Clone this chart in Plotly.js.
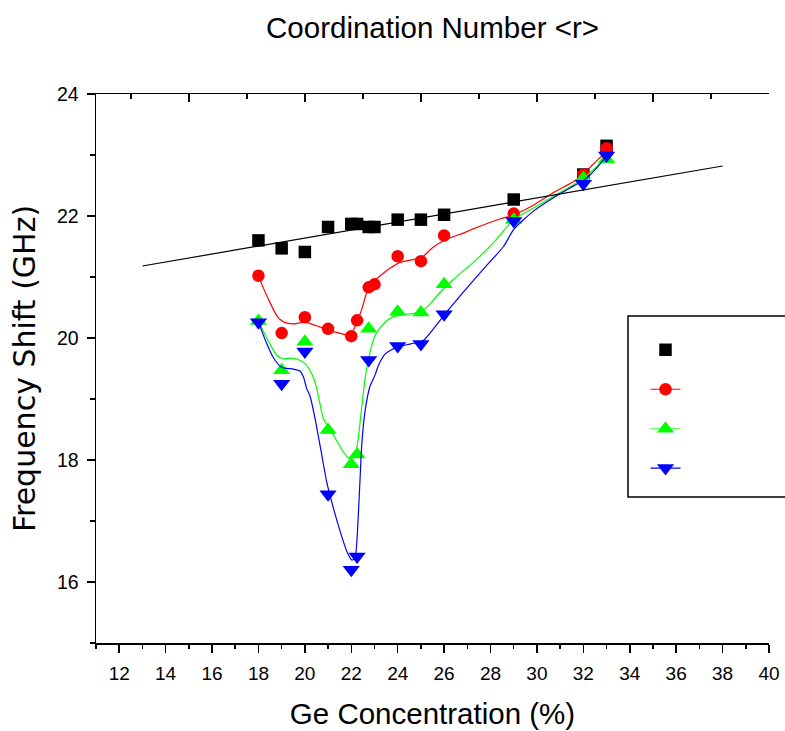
<!DOCTYPE html>
<html>
<head>
<meta charset="utf-8">
<script src="https://cdn.plot.ly/plotly-3.0.1.min.js"></script>
<style>html,body{margin:0;padding:0;background:#fff;}#chart{width:785px;height:731px;}</style>
</head>
<body>
<div id="chart"></div>
<script>
// Measured points (Ge concentration %, frequency shift GHz)
const geAll = [18, 19, 20, 21, 22, 22.25, 22.75, 23, 24, 25, 26, 29, 32, 33];
const blackShift = [21.60, 21.47, 21.41, 21.82, 21.87, 21.87, 21.82, 21.82, 21.94, 21.94, 22.02, 22.27, 22.68, 23.15];
const redShift = [21.02, 20.08, 20.34, 20.15, 20.03, 20.29, 20.83, 20.88, 21.34, 21.26, 21.68, 22.04, 22.68, 23.11];
const geGB = [18, 19, 20, 21, 22, 22.25, 22.75, 24, 25, 26, 29, 32, 33];
const greenShift = [20.28, 19.47, 19.94, 18.49, 17.93, 18.09, 20.15, 20.43, 20.42, 20.88, 21.94, 22.62, 22.93];
const blueShift = [20.26, 19.25, 19.78, 17.44, 16.20, 16.42, 19.64, 19.87, 19.90, 20.39, 21.92, 22.53, 22.99];

// Linear fit of the black series, read at its ends
const fitX = [13, 38];
const fitY = [21.18, 22.82];

// Smoothed guide curves
const redCurveX = [18, 18.2, 18.5, 18.8, 19.1, 19.5, 20.0, 20.5, 21.0, 21.5, 21.95, 22.2, 22.45, 22.67, 22.85, 23.25, 23.7, 24.1, 24.7, 25.1, 25.5, 26.1, 26.7, 27.2, 28.4, 29.0, 29.9, 30.7, 31.6, 32.0, 32.4, 33.0];
const redCurveY = [21.02, 20.83, 20.58, 20.36, 20.26, 20.23, 20.26, 20.20, 20.13, 20.08, 20.04, 20.22, 20.47, 20.75, 20.88, 21.02, 21.15, 21.24, 21.29, 21.34, 21.48, 21.62, 21.70, 21.78, 21.95, 22.02, 22.19, 22.38, 22.57, 22.68, 22.84, 23.06];
const greenCurveX = [18, 18.2, 18.5, 18.8, 19.07, 19.43, 19.8, 20.08, 20.3, 20.5, 20.8, 21.1, 21.4, 21.66, 21.95, 22.16, 22.3, 22.38, 22.49, 22.6, 22.81, 23.03, 23.38, 23.81, 24.39, 24.97, 25.4, 25.83, 26.4, 27.26, 28.1, 29.0, 29.85, 30.7, 31.57, 32.0, 32.58, 33.05];
const greenCurveY = [20.28, 20.12, 19.90, 19.71, 19.66, 19.67, 19.63, 19.55, 19.41, 19.19, 18.68, 18.49, 18.30, 18.13, 18.02, 18.08, 18.35, 18.62, 19.0, 19.35, 19.77, 20.04, 20.23, 20.35, 20.39, 20.42, 20.56, 20.75, 20.96, 21.24, 21.55, 21.94, 22.13, 22.32, 22.51, 22.62, 22.81, 22.98];
const blueCurveX = [18, 18.28, 18.64, 19.0, 19.5, 19.79, 19.94, 20.08, 20.22, 20.44, 20.73, 20.94, 21.23, 21.52, 21.81, 22.02, 22.16, 22.24, 22.31, 22.38, 22.45, 22.59, 22.8, 23.03, 23.17, 23.46, 23.96, 24.53, 25.1, 25.54, 25.97, 26.69, 27.69, 28.56, 29.0, 29.85, 30.71, 31.57, 32.07, 32.58, 33.0];
const blueCurveY = [20.26, 19.98, 19.68, 19.52, 19.49, 19.46, 19.36, 19.17, 19.05, 18.68, 18.08, 17.64, 17.21, 16.83, 16.50, 16.36, 16.39, 16.66, 17.15, 17.70, 18.24, 18.79, 19.2, 19.4, 19.55, 19.74, 19.85, 19.90, 19.96, 20.15, 20.36, 20.69, 21.13, 21.5, 21.78, 22.08, 22.30, 22.49, 22.60, 22.79, 22.98];

// Axis ticks
const xTickVals = [12, 14, 16, 18, 20, 22, 24, 26, 28, 30, 32, 34, 36, 38, 40];
const topTickVals = [15, 20, 25, 30, 35, 40];
const yTickVals = [16, 18, 20, 22, 24];

const RED = '#ff0000', GREEN = '#00ff00', BLUE = '#0000ff', BLACK = '#000000';
const blankName = '\u00a0';

const traces = [
  {x: fitX, y: fitY, xaxis: 'x2', mode: 'lines', line: {color: BLACK, width: 1.2}, showlegend: false, hoverinfo: 'skip'},
  {x: geAll, y: blackShift, mode: 'markers', marker: {symbol: 'square', size: 12.5, color: BLACK}, showlegend: false},
  {x: redCurveX, y: redCurveY, mode: 'lines', line: {color: RED, width: 1.2, shape: 'spline', smoothing: 0.6}, showlegend: false, hoverinfo: 'skip'},
  {x: geAll, y: redShift, mode: 'markers', marker: {symbol: 'circle', size: 12.5, color: RED}, showlegend: false},
  {x: greenCurveX, y: greenCurveY, mode: 'lines', line: {color: GREEN, width: 1.2, shape: 'spline', smoothing: 0.6}, showlegend: false, hoverinfo: 'skip'},
  {x: geGB, y: greenShift, mode: 'markers', marker: {symbol: 'triangle-up', size: 15, color: GREEN}, showlegend: false},
  {x: blueCurveX, y: blueCurveY, mode: 'lines', line: {color: BLUE, width: 1.2, shape: 'spline', smoothing: 0.6}, showlegend: false, hoverinfo: 'skip'},
  {x: geGB, y: blueShift, mode: 'markers', marker: {symbol: 'triangle-down', size: 15, color: BLUE}, showlegend: false},
  // legend entries (no data of their own)
  {x: [null], y: [null], mode: 'markers', name: blankName, marker: {symbol: 'square', size: 12.5, color: BLACK}},
  {x: [null], y: [null], mode: 'lines+markers', name: blankName, line: {color: RED, width: 1.2}, marker: {symbol: 'circle', size: 12.5, color: RED}},
  {x: [null], y: [null], mode: 'lines+markers', name: blankName, line: {color: '#66ff66', width: 1.2}, marker: {symbol: 'triangle-up', size: 15, color: GREEN}},
  {x: [null], y: [null], mode: 'lines+markers', name: blankName, line: {color: BLUE, width: 1.2}, marker: {symbol: 'triangle-down', size: 15, color: BLUE}}
];

const FONT = 'Arial, "Liberation Sans", sans-serif';
const axisBase = {showgrid: false, zeroline: false, showline: true, linecolor: BLACK, linewidth: 1.5, tickcolor: BLACK, tickwidth: 1.5};

const layout = {
  width: 785, height: 731,
  margin: {l: 96, r: 16, t: 94, b: 88, pad: 0},
  paper_bgcolor: '#ffffff', plot_bgcolor: '#ffffff',
  font: {family: FONT, color: BLACK},
  showlegend: true,
  legend: {x: 0.8165, y: 0.579, xanchor: 'left', yanchor: 'top', bgcolor: 'rgba(0,0,0,0)', borderwidth: 0, font: {size: 28, family: FONT}, tracegroupgap: 0},
  xaxis: Object.assign({}, axisBase, {
    range: [11, 40], tickmode: 'array', tickvals: xTickVals, ticks: 'outside', ticklen: 8,
    tickfont: {size: 19}, ticklabelstandoff: 5,
    minor: {dtick: 1, tick0: 11, ticks: 'outside', ticklen: 4, tickwidth: 1.5, tickcolor: BLACK},
    title: {text: 'Ge Concentration (%)', font: {size: 29.5}, standoff: 20}
  }),
  xaxis2: Object.assign({}, axisBase, {
    overlaying: 'x', side: 'top', anchor: 'y', range: [11, 40],
    tickmode: 'array', tickvals: topTickVals, ticks: 'inside', ticklen: 8, showticklabels: false,
    minor: {dtick: 2.5, tick0: 12.5, ticks: 'inside', ticklen: 5, tickwidth: 1.5, tickcolor: BLACK},
    title: {text: 'Coordination Number &lt;r&gt;', font: {size: 29.5}, standoff: 45}
  }),
  yaxis: Object.assign({}, axisBase, {
    range: [15, 24], tickmode: 'array', tickvals: yTickVals, ticks: 'outside', ticklen: 8,
    tickfont: {size: 19.5}, ticklabelstandoff: 4,
    minor: {dtick: 1, tick0: 15, ticks: 'outside', ticklen: 5, tickwidth: 1.5, tickcolor: BLACK},
    title: {text: 'Frequency Shift (GHz)', font: {size: 30, family: '"DejaVu Sans", Arial, sans-serif'}, standoff: 12}
  }),
  shapes: [
    {type: 'rect', xref: 'paper', yref: 'paper', x0: 0.7905, x1: 1.06, y0: 0.266, y1: 0.5956, line: {color: BLACK, width: 1.5}, fillcolor: 'rgba(0,0,0,0)', layer: 'above'}
  ]
};

Plotly.newPlot('chart', traces, layout, {displayModeBar: false, staticPlot: true});
</script>
</body>
</html>
